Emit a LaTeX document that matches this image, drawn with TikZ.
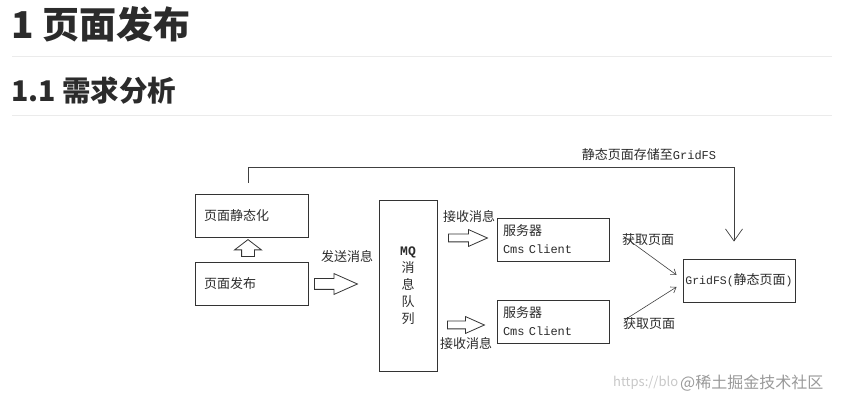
\documentclass[tikz,border=0pt]{standalone}
\usepackage{fontspec}
\setmainfont{Noto Sans CJK SC}
\newfontfamily\mono{Liberation Mono}
\usetikzlibrary{positioning,shapes.arrows,arrows.meta}

\definecolor{inkgray}{HTML}{2B2B2B}
\definecolor{rulegray}{HTML}{EBEBEB}

\begin{document}
\begin{tikzpicture}[x=1pt,y=1pt,
    box/.style={draw=black!80, line width=0.9pt, minimum width=113pt, minimum height=43pt,
                inner xsep=9pt, text width=95pt, align=left, font=\fontsize{13}{18}\selectfont, text=inkgray},
    lbl/.style={font=\fontsize{13}{15}\selectfont, text=inkgray, inner sep=0pt},
    blockarrow/.style={single arrow, draw=black!80, line width=0.8pt, inner xsep=0pt,
                single arrow tip angle=48, anchor=tail},
    thinarrow/.style={draw=black!75, line width=0.6pt, -{Straight Barb[length=5pt,width=7pt]}}]
  \useasboundingbox (0,0) rectangle (844,402);

  % headings
  \node[anchor=west, inner sep=0pt, text=inkgray, font=\fontsize{37}{40}\selectfont\bfseries] (h1) at (11,378) {1 页面发布};
  \draw[rulegray, line width=1pt] (12,345) -- (832,345);
  \node[anchor=west, inner sep=0pt, text=inkgray, font=\fontsize{28.5}{32}\selectfont\bfseries] (h2) at (11,311) {1.1 需求分析};
  \draw[rulegray, line width=1pt] (12,286) -- (832,286);

  % boxes
  \node[box] (stat) at (251.5,186.5) {页面静态化};
  \node[box] (pub)  at (251.5,118.5) {页面发布};
  \node[draw=black!80, line width=0.9pt, minimum width=58pt, minimum height=171pt, align=center,
        text=inkgray, font=\fontsize{13}{17}\selectfont] (mq) at (408,116.5)
        {{\mono\bfseries MQ}\\消\\息\\队\\列};
  \node[box, minimum width=112pt, inner xsep=6pt, text width=100pt] (srv1) at (553,162.5) {服务器\\{\mono\fontsize{12}{18}\selectfont Cms Client}};
  \node[box, minimum width=112pt, inner xsep=6pt, text width=100pt] (srv2) at (553,80.5) {服务器\\{\mono\fontsize{12}{18}\selectfont Cms Client}};
  \node[box, minimum width=112pt, inner xsep=2pt, text width=108pt, align=center] (gfs) at (739,121.5)
        {{\mono\fontsize{11.5}{18}\selectfont GridFS(}静态页面{\mono\fontsize{11.5}{18}\selectfont )}};

  % block arrows
  \node[blockarrow, minimum height=17pt, inner ysep=6pt, single arrow head extend=7pt,
        single arrow tip angle=105, rotate=90] (up) at (248,145) {};
  \node[blockarrow, minimum height=43pt, inner ysep=5pt, single arrow head extend=5pt] (send) at (314,118) {};
  \node[blockarrow, minimum height=39pt, inner ysep=3.5pt, single arrow head extend=4.5pt] (recv1) at (448,164) {};
  \node[blockarrow, minimum height=37pt, inner ysep=3.5pt, single arrow head extend=4.5pt] (recv2) at (447,77) {};

  % labels
  \node[lbl] (lsend)  at (347,145) {发送消息};
  \node[lbl] (lrecv1) at (469,185) {接收消息};
  \node[lbl] (lrecv2) at (466,58) {接收消息};
  \node[lbl] (lget1)  at (648,162) {获取页面};
  \node[lbl] (lget2)  at (649,78) {获取页面};
  \node[lbl] (lstore) at (649,247) {静态页面存储至{\mono\fontsize{12}{15}\selectfont GridFS}};

  % connectors
  \draw[draw=black!75, line width=0.7pt, shorten <=11pt, shorten >=17pt,
        -{Straight Barb[length=12pt,width=17pt]}]
        ([xshift=-3.5pt]stat.north) -- ++(0,26) -| ([xshift=-5pt]gfs.north);
  \draw[thinarrow] ([xshift=15pt,yshift=2.5pt]srv1.east) -- ([xshift=-6pt,yshift=5.5pt]gfs.west);
  \draw[thinarrow] ([xshift=15pt,yshift=1.5pt]srv2.east) -- ([xshift=-6pt,yshift=-6.5pt]gfs.west);

  % watermark
  \node[anchor=west, inner sep=0pt, text=black!22, font=\fontsize{13}{15}\selectfont] (wm1) at (613,19) {https://blo};
  \node[anchor=west, inner sep=0pt, text=black!40, font=\fontsize{16}{18}\selectfont] (wm2) at (680,19) {@稀土掘金技术社区};
\end{tikzpicture}
\end{document}
